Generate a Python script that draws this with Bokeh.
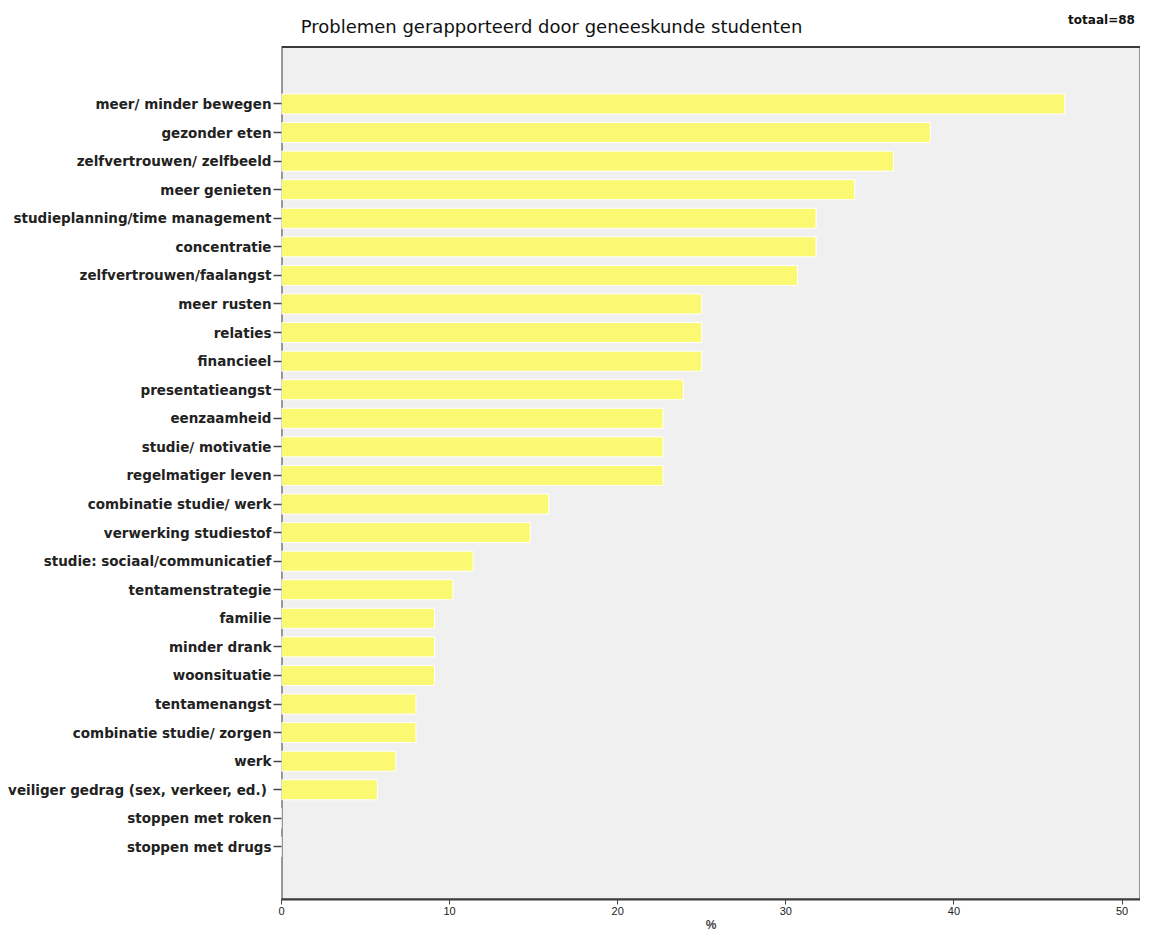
from bokeh.plotting import figure
from bokeh.models import Range1d, FixedTicker, ColumnDataSource, BoxAnnotation
from bokeh.core.properties import value
from bokeh.embed import file_html
from bokeh.resources import INLINE

categories = [
    "meer/ minder bewegen", "gezonder eten", "zelfvertrouwen/ zelfbeeld", "meer genieten",
    "studieplanning/time management", "concentratie", "zelfvertrouwen/faalangst",
    "meer rusten", "relaties", "financieel", "presentatieangst", "eenzaamheid",
    "studie/ motivatie", "regelmatiger leven", "combinatie studie/ werk",
    "verwerking studiestof", "studie: sociaal/communicatief", "tentamenstrategie",
    "familie", "minder drank", "woonsituatie", "tentamenangst",
    "combinatie studie/ zorgen", "werk", "veiliger gedrag (sex, verkeer, ed.) ",
    "stoppen met roken", "stoppen met drugs",
]
percent = [46.6, 38.6, 36.4, 34.1, 31.8, 31.8, 30.7, 25.0, 25.0, 25.0, 23.9, 22.7,
           22.7, 22.7, 15.9, 14.8, 11.4, 10.2, 9.1, 9.1, 9.1, 8.0, 8.0, 6.8, 5.7, 0.0, 0.0]
x_ticks = [0, 10, 20, 30, 40, 50]
title_text = "Problemen gerapporteerd door geneeskunde studenten"
total_text = "totaal=88"

idx = list(range(len(categories)))
src = ColumnDataSource(dict(y=idx, right=percent, cat=categories))

FONT = "Liberation Sans"
LABEL_FONT = "DejaVu Sans"
Y_TOP = -1.99       # top edge of the plotting area (category units)
p = figure(width=1140, height=934, output_backend="svg", toolbar_location=None,
           x_range=Range1d(0, 51.1), y_range=Range1d(27.84, -3.62),
           min_border_left=281, min_border_right=0, min_border_top=0, min_border_bottom=34)
p.background_fill_color = "white"
p.border_fill_color = "white"
p.outline_line_color = None
p.grid.visible = False

p.add_layout(BoxAnnotation(top=Y_TOP, fill_color="#F0F0F0", fill_alpha=1.0,
                           line_color="#3A3A3A", line_alpha=1.0, line_width=2,
                           level="underlay"))

p.hbar(y="y", left=0, right="right", height=0.7, source=src,
       fill_color="#FBF872", line_color="white", line_width=1)

p.yaxis.ticker = FixedTicker(ticks=idx)
p.yaxis.major_label_overrides = {i: c for i, c in zip(idx, categories)}
p.yaxis.major_label_text_font = LABEL_FONT
p.yaxis.major_label_text_font_style = "bold"
p.yaxis.major_label_text_font_size = "13.5px"
p.yaxis.major_label_text_color = "#222222"
p.yaxis.minor_tick_line_color = None
p.yaxis.major_tick_out = 8
p.yaxis.major_tick_in = 0
p.yaxis.major_label_standoff = 2
p.yaxis.axis_line_color = None
p.yaxis.major_tick_line_color = "#444444"
p.yaxis.major_tick_line_width = 1.5

p.xaxis.ticker = FixedTicker(ticks=x_ticks)
p.xaxis.major_label_text_font = FONT
p.xaxis.major_label_text_font_size = "11px"
p.xaxis.major_label_text_color = "#222222"
p.xaxis.minor_tick_line_color = None
p.xaxis.major_tick_out = 5
p.xaxis.major_tick_in = 0
p.xaxis.major_label_standoff = 2
p.xaxis.axis_label = "%"
p.xaxis.axis_label_text_font = FONT
p.xaxis.axis_label_text_font_style = "bold"
p.xaxis.axis_label_text_font_size = "12px"
p.xaxis.axis_label_standoff = 0
p.xaxis.axis_line_color = "#3A3A3A"
p.xaxis.axis_line_width = 2
p.xaxis.major_tick_line_color = "#444444"

p.text(x=[16.06], y=[-2.72], text=[title_text], text_align="center",
       text_baseline="middle", text_font=value(LABEL_FONT), text_font_size="18px",
       text_color="#111111")
p.text(x=[48.78], y=[-2.93], text=[total_text], text_align="center",
       text_baseline="middle", text_font=value(LABEL_FONT), text_font_size="12px",
       text_font_style="bold", text_color="#111111")

open("out.html", "w").write(file_html(p, INLINE))
